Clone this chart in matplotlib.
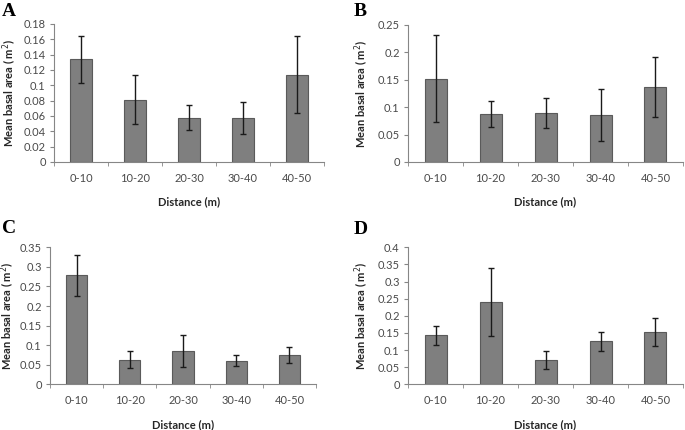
import matplotlib
matplotlib.use("Agg")
import matplotlib.pyplot as plt
from matplotlib.ticker import FuncFormatter, FixedLocator
import numpy as np

# distance classes shared by all panels
distances = ["0-10", "10-20", "20-30", "30-40", "40-50"]

# mean basal area and error per panel
means_a = [0.134, 0.081, 0.058, 0.057, 0.114]
errs_a = [0.031, 0.032, 0.016, 0.021, 0.050]

means_b = [0.152, 0.087, 0.089, 0.086, 0.137]
errs_b = [0.080, 0.024, 0.027, 0.047, 0.055]

means_c = [0.278, 0.063, 0.085, 0.060, 0.075]
errs_c = [0.053, 0.022, 0.040, 0.014, 0.020]

means_d = [0.143, 0.240, 0.071, 0.125, 0.153]
errs_d = [0.027, 0.100, 0.025, 0.028, 0.041]

W, H = 685, 430
fig = plt.figure(figsize=(W / 100, H / 100), dpi=100)

tick_col = "#4a4a4a"
spine_col = "#868686"

# (left px, top px, right px, bottom px, ymax, ystep, letter, letter x, letter y, ylabel x)
panels = [
    (54, 24, 324, 162, 0.18, 0.02, "A", 2, 16, 10, means_a, errs_a),
    (408, 24.7, 683, 162, 0.25, 0.05, "B", 354, 16, 362, means_b, errs_b),
    (50, 247.3, 316, 384.3, 0.35, 0.05, "C", 2, 233, 8, means_c, errs_c),
    (408, 247.3, 683, 384.3, 0.4, 0.05, "D", 354, 234, 362, means_d, errs_d),
]

for (l, t, r, b, ymax, ystep, letter, lx, ly, yl_x, means, errs) in panels:
    ax = fig.add_axes([l / W, 1 - b / H, (r - l) / W, (b - t) / H])
    x = np.arange(len(distances))
    ax.bar(x, means, width=0.4, color="#7f7f7f", edgecolor="#5a5a5a",
           linewidth=0.8, zorder=2)
    ax.errorbar(x, means, yerr=errs, fmt="none", ecolor="#1a1a1a",
                elinewidth=1.0, capsize=2.2, capthick=1.0, zorder=3)

    ax.set_xlim(-0.5, len(distances) - 0.5)
    ax.set_ylim(0, ymax)
    ax.set_yticks(np.arange(0, ymax + ystep / 2, ystep))
    ax.yaxis.set_major_formatter(FuncFormatter(lambda v, p: f"{round(v, 3):g}"))

    ax.set_xticks(x)
    ax.set_xticklabels(distances)
    ax.xaxis.set_minor_locator(FixedLocator(np.arange(-0.5, len(distances), 1.0)))
    ax.tick_params(axis="x", which="major", length=0, pad=8,
                   labelsize=8, labelcolor=tick_col)
    ax.tick_params(axis="x", which="minor", length=3, color=spine_col,
                   direction="out")
    ax.tick_params(axis="y", length=3, color=spine_col, direction="out",
                   labelsize=8, labelcolor=tick_col, pad=3)
    for lab in ax.get_xticklabels() + ax.get_yticklabels():
        lab.set_family("Lato")

    for s in ["top", "right"]:
        ax.spines[s].set_visible(False)
    for s in ["left", "bottom"]:
        ax.spines[s].set_color(spine_col)
        ax.spines[s].set_linewidth(0.8)

    ax.set_xlabel("Distance (m)", fontsize=8, fontweight="bold",
                  family="Lato", color="#262626", labelpad=9)
    ax.set_ylabel("Mean basal area ( m$^2$)", fontsize=8, fontweight="bold",
                  family="Lato", color="#262626", va="center")
    ax.yaxis.set_label_coords(yl_x / W, 1 - (t + b) / 2 / H,
                              transform=fig.transFigure)

    fig.text(lx / W, 1 - ly / H, letter, fontsize=14, fontweight="bold",
             family="Liberation Serif", ha="left", va="baseline")

fig.savefig("out.png", dpi=100)
